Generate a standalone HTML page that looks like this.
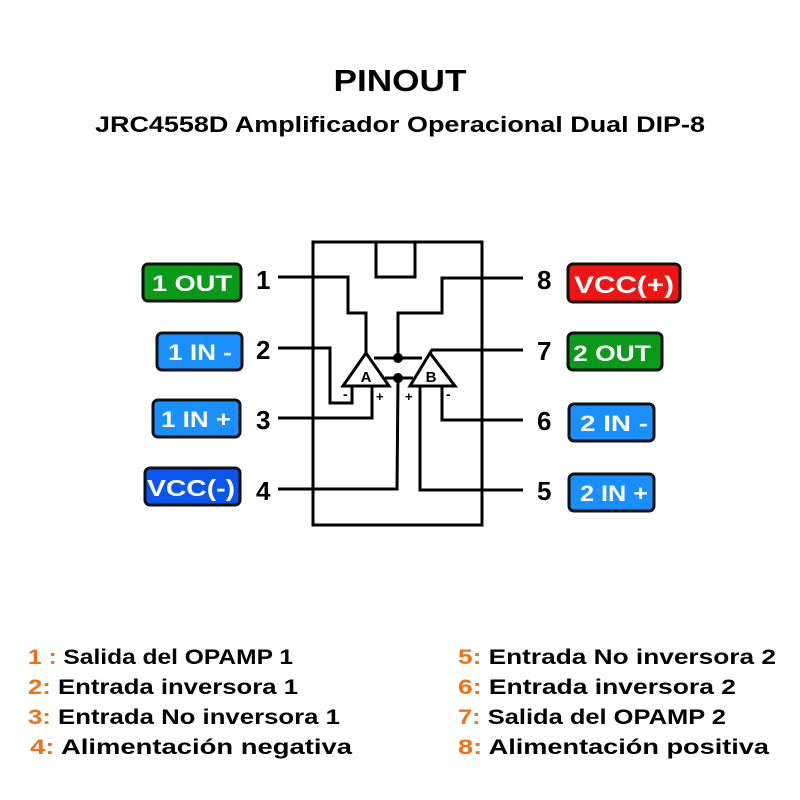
<!DOCTYPE html>
<html><head><meta charset="utf-8"><style>
html,body{margin:0;padding:0;background:#fff;}
svg{display:block;}
text{font-family:"Liberation Sans",sans-serif;font-weight:bold;}
</style></head><body>
<svg width="800" height="800" viewBox="0 0 800 800">
<rect width="800" height="800" fill="#fff"/>
<text x="400" y="91" text-anchor="middle" font-size="31" textLength="133" lengthAdjust="spacingAndGlyphs">PINOUT</text>
<text x="400" y="132" text-anchor="middle" font-size="22" textLength="610" lengthAdjust="spacingAndGlyphs">JRC4558D Amplificador Operacional Dual DIP-8</text>

<g fill="none" stroke="#000" stroke-width="3" stroke-linejoin="miter">
<rect x="313" y="242" width="169" height="283"/>
<polyline points="376,242 376,277 415,277 415,242"/>
<line x1="278" y1="277" x2="313" y2="277"/>
<line x1="278" y1="348" x2="313" y2="348"/>
<line x1="278" y1="418" x2="313" y2="418"/>
<line x1="278" y1="489" x2="313" y2="489"/>
<line x1="482" y1="278" x2="523" y2="278"/>
<line x1="482" y1="350" x2="523" y2="350"/>
<line x1="482" y1="420" x2="523" y2="420"/>
<line x1="482" y1="490" x2="523" y2="490"/>
<polyline points="313,277 348,277 348,313 366,313 366,353"/>
<polyline points="482,278 442,278 442,313 398,313 398,358"/>
<polyline points="313,348 330,348 330,403 352,403 352,385"/>
<polyline points="313,418 372,418 372,385"/>
<polyline points="398,378 397,489 313,489"/>
<polyline points="420,385 420,490 482,490"/>
<polyline points="482,420 442,420 442,385"/>
<polyline points="482,350 432,350 430,353"/>
<line x1="374" y1="358" x2="422" y2="358"/>
<line x1="385" y1="378" x2="413" y2="378"/>
<polygon points="366,353 343,386 389,386" fill="#fff"/>
<polygon points="430,353 410,386 455,386" fill="#fff"/>
</g>
<circle cx="398" cy="358" r="5"/>
<circle cx="398" cy="378" r="5"/>
<text x="366" y="382" text-anchor="middle" font-size="15">A</text>
<text x="431" y="382" text-anchor="middle" font-size="15">B</text>
<text x="343" y="399" font-size="14">-</text>
<text x="376" y="401" font-size="13">+</text>
<text x="405" y="401" font-size="13">+</text>
<text x="446" y="399" font-size="14">-</text>

<g font-size="26">
<text x="256" y="289">1</text>
<text x="256" y="359">2</text>
<text x="256" y="429">3</text>
<text x="256" y="500">4</text>
<text x="537" y="289">8</text>
<text x="537" y="360">7</text>
<text x="537" y="430">6</text>
<text x="537" y="500">5</text>
</g>

<g stroke="#111" stroke-width="3">
<rect x="143" y="264" width="98" height="37" rx="5" fill="#0a9a1a"/>
<rect x="157" y="333" width="85" height="37" rx="5" fill="#1a8fff"/>
<rect x="153" y="400" width="87" height="37" rx="5" fill="#1a8fff"/>
<rect x="145" y="468" width="95" height="37" rx="5" fill="#0a55ee"/>
<rect x="568" y="264" width="112" height="38" rx="5" fill="#f01414"/>
<rect x="568" y="333" width="94" height="37" rx="5" fill="#0a9a1a"/>
<rect x="569" y="404" width="85" height="37" rx="5" fill="#1a8fff"/>
<rect x="569" y="474" width="85" height="37" rx="5" fill="#1a8fff"/>
</g>
<g fill="#fff" font-size="22" text-anchor="middle">
<text x="192" y="291" textLength="80" lengthAdjust="spacingAndGlyphs">1 OUT</text>
<text x="200" y="360" textLength="64" lengthAdjust="spacingAndGlyphs">1 IN -</text>
<text x="196" y="427" textLength="70" lengthAdjust="spacingAndGlyphs">1 IN +</text>
<text x="191" y="496" font-size="23" textLength="88" lengthAdjust="spacingAndGlyphs">VCC(-)</text>
<text x="624" y="293" font-size="24" textLength="100" lengthAdjust="spacingAndGlyphs">VCC(+)</text>
<text x="612" y="361" textLength="78" lengthAdjust="spacingAndGlyphs">2 OUT</text>
<text x="614" y="431" textLength="68" lengthAdjust="spacingAndGlyphs">2 IN -</text>
<text x="614" y="501" textLength="68" lengthAdjust="spacingAndGlyphs">2 IN +</text>
</g>

<g font-size="21">
<text x="28" y="664" textLength="265" lengthAdjust="spacingAndGlyphs"><tspan fill="#f07015">1 : </tspan>Salida del OPAMP 1</text>
<text x="28" y="694" textLength="270" lengthAdjust="spacingAndGlyphs"><tspan fill="#f07015">2: </tspan>Entrada inversora 1</text>
<text x="28" y="724" textLength="312" lengthAdjust="spacingAndGlyphs"><tspan fill="#f07015">3: </tspan>Entrada No inversora 1</text>
<text x="30" y="754" textLength="322" lengthAdjust="spacingAndGlyphs"><tspan fill="#f07015">4: </tspan>Alimentación negativa</text>
<text x="458" y="664" textLength="318" lengthAdjust="spacingAndGlyphs"><tspan fill="#f07015">5: </tspan>Entrada No inversora 2</text>
<text x="458" y="694" textLength="278" lengthAdjust="spacingAndGlyphs"><tspan fill="#f07015">6: </tspan>Entrada inversora 2</text>
<text x="458" y="724" textLength="268" lengthAdjust="spacingAndGlyphs"><tspan fill="#f07015">7: </tspan>Salida del OPAMP 2</text>
<text x="458" y="754" textLength="311" lengthAdjust="spacingAndGlyphs"><tspan fill="#f07015">8: </tspan>Alimentación positiva</text>
</g>
</svg>
</body></html>
